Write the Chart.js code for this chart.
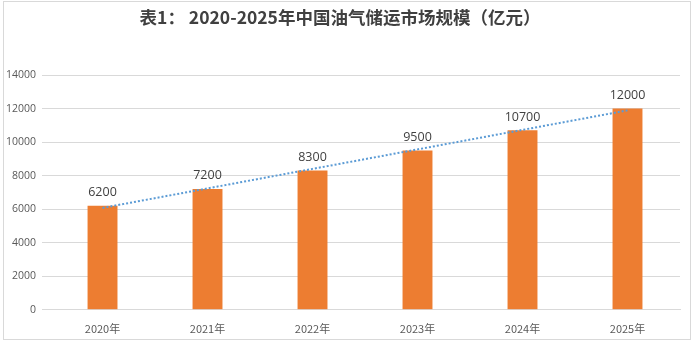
<!DOCTYPE html>
<html>
<head>
<meta charset="utf-8">
<script src="https://cdn.jsdelivr.net/npm/chart.js@4"></script>
<style>
  html, body { margin: 0; padding: 0; background: #fff; }
  .wrap { position: relative; width: 696px; height: 345px; }
  .frame { position: absolute; left: 3px; top: 1px; width: 688px; height: 339px; border: 1px solid #d9d9d9; box-sizing: border-box; }
</style>
</head>
<body>
<div class="wrap">
  <div class="frame"></div>
  <canvas id="marketChart" width="696" height="345"></canvas>
</div>
<script>
const years = ['2020年', '2021年', '2022年', '2023年', '2024年', '2025年'];
const marketSize = [6200, 7200, 8300, 9500, 10700, 12000];
const yTicks = [0, 2000, 4000, 6000, 8000, 10000, 12000, 14000];

// least-squares trend over the yearly values
function linearTrend(values) {
    const n = values.length;
    const mx = (n - 1) / 2;
    const my = values.reduce((a, b) => a + b, 0) / n;
    let num = 0, den = 0;
    values.forEach((v, i) => { num += (i - mx) * (v - my); den += (i - mx) * (i - mx); });
    const k = num / den;
    return values.map((_, i) => my + k * (i - mx));
}

const barLabels = {
    id: 'barLabels',
    afterDatasetsDraw(chart) {
        const { ctx } = chart;
        const meta = chart.getDatasetMeta(0);
        ctx.save();
        ctx.font = '12.5px "Open Sans", "Noto Sans", sans-serif';
        ctx.fillStyle = '#404040';
        ctx.textAlign = 'center';
        ctx.textBaseline = 'bottom';
        meta.data.forEach((bar, i) => {
            ctx.fillText(marketSize[i], bar.x, bar.y - 7);
        });
        ctx.restore();
    }
};

const ctx = document.getElementById('marketChart');
new Chart(ctx, {
    data: {
        labels: years,
        datasets: [{
            type: 'bar',
            data: marketSize,
            backgroundColor: '#ED7D31',
            barPercentage: 0.57,
            categoryPercentage: 0.5,
            order: 2
        }, {
            type: 'line',
            data: linearTrend(marketSize),
            borderColor: '#5B9BD5',
            borderWidth: 2,
            borderDash: [2, 2],
            pointRadius: 0,
            fill: false,
            order: 1
        }]
    },
    options: {
        responsive: false,
        animation: false,
        layout: { padding: { left: 0, right: 16, top: 5, bottom: 6 } },
        plugins: {
            legend: { display: false },
            tooltip: { enabled: false },
            title: {
                display: true,
                text: '表1： 2020-2025年中国油气储运市场规模（亿元）',
                color: '#404040',
                font: { family: '"Noto Sans CJK SC", sans-serif', size: 17.5, weight: 'bold' },
                padding: { top: 2, bottom: 47 }
            }
        },
        scales: {
            x: {
                grid: { display: false },
                border: { color: '#d9d9d9' },
                ticks: {
                    color: '#595959',
                    font: { family: '"Noto Sans CJK SC", sans-serif', size: 11 },
                    padding: 4
                }
            },
            y: {
                min: 0,
                max: 14000,
                afterBuildTicks(axis) { axis.ticks = yTicks.map(v => ({ value: v })); },
                grid: { color: '#d9d9d9' },
                border: { display: false },
                ticks: {
                    color: '#595959',
                    font: { family: '"Open Sans", sans-serif', size: 10.5 },
                    padding: 6,
                    callback: v => String(v)
                }
            }
        }
    },
    plugins: [barLabels]
});
</script>
</body>
</html>
